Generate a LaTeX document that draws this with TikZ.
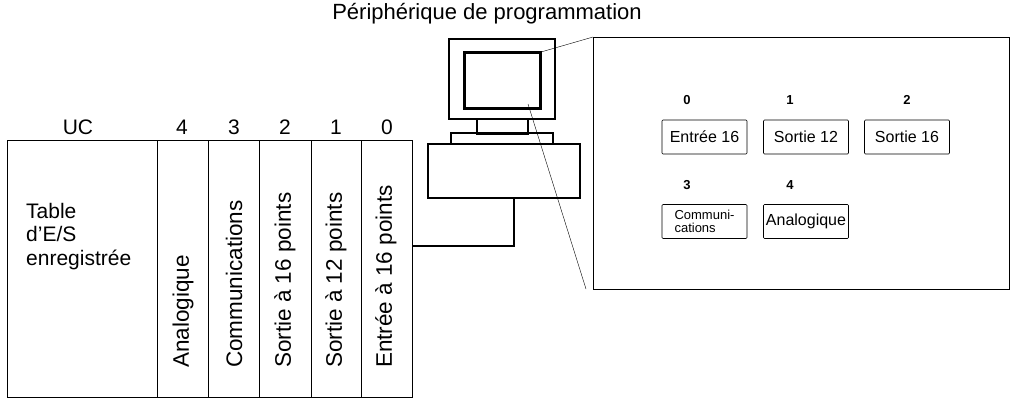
\documentclass[tikz,border=0pt]{standalone}
\usepackage{fontspec}
\setmainfont{Liberation Sans}
\usetikzlibrary{positioning}
\tikzset{
    slot/.style={draw, thick, minimum height=257pt, inner sep=0pt, anchor=north west}, % rack slots
    slottext/.style={rotate=90, anchor=west, inner sep=0pt, font=\fontsize{22.5pt}{24pt}\selectfont},
    unit/.style={draw, semithick, rounded corners=1pt, minimum width=85pt, minimum height=34pt, inner sep=1pt, font=\fontsize{16pt}{17pt}\selectfont},
    num/.style={font=\fontsize{13pt}{14pt}\selectfont\bfseries},
    top/.style={font=\fontsize{21pt}{22pt}\selectfont},
}
\begin{document}
\begin{tikzpicture}[x=1pt, y=-1pt]
    \useasboundingbox (0,0) rectangle (1015,407);
    % rack
    \node[slot, minimum width=150pt] (cpu) at (7,140) {};
    \node[slot, minimum width=51pt] (s4) at (157,140) {};
    \node[slot, minimum width=51pt] (s3) at (208,140) {};
    \node[slot, minimum width=52pt] (s2) at (259,140) {};
    \node[slot, minimum width=50pt] (s1) at (311,140) {};
    \node[slot, minimum width=51pt] (s0) at (361,140) {};
    \node[top] (lcpu) at (78,127) {UC};
    \node[top] (l4) at (182,127) {4};
    \node[top] (l3) at (234,127) {3};
    \node[top] (l2) at (285,127) {2};
    \node[top] (l1) at (336,127) {1};
    \node[top] (l0) at (387,127) {0};
    \node[anchor=north west, align=left, inner sep=0pt, font=\fontsize{21pt}{23.5pt}\selectfont] (table) at (26,203) {Table\\d'E/S\\enregistrée};
    \node[slottext] (t4) at (183,368) {Analogique};
    \node[slottext] (t3) at (234,368) {Communications};
    \node[slottext] (t2) at (285,368) {Sortie à 16 points};
    \node[slottext] (t1) at (336,368) {Sortie à 12 points};
    \node[slottext] (t0) at (386,368) {Entrée à 16 points};
    % computer
    \node[draw, line width=2pt, minimum width=106pt, minimum height=80pt, anchor=north west] (monitor) at (448,38) {};
    \node[draw, line width=3pt, minimum width=76pt, minimum height=56pt, anchor=north west] (screen) at (463,51) {};
    \node[draw, line width=2pt, minimum width=51pt, minimum height=15pt, anchor=north] (neck) at (502.5,118) {};
    \node[draw, line width=2pt, minimum width=102pt, minimum height=11pt, anchor=north] (base) at (502,132) {};
    \node[draw, line width=2pt, minimum width=152pt, minimum height=54pt, anchor=north west] (box) at (427,143) {};
    \coordinate (cab) at (514,246);
    \draw[line width=2pt] (box.south -| cab) -- (cab) -- (cab -| s0.east);
    \node[font=\fontsize{22pt}{24pt}\selectfont] (title) at (487,14) {Périphérique de programmation};
    % zoomed screen
    \node[draw, thick, minimum width=416pt, minimum height=252pt, anchor=north west] (panel) at (593,37) {};
    \draw (screen.north east) ++(-1,1) -- (panel.north west);
    \draw (528,104) -- (586,289);
    \node[unit] (u0) at (704.5,137) {Entrée 16};
    \node[unit] (u1) at (806,137) {Sortie 12};
    \node[unit] (u2) at (907,137) {Sortie 16};
    \node[unit, align=left, font=\fontsize{13pt}{13pt}\selectfont] (u3) at (704.5,221.5) {Communi-\\cations};
    \node[unit] (u4) at (806,221.5) {Analogique};
    \node[num] (n0) at (687,100) {0};
    \node[num] (n1) at (790,100) {1};
    \node[num] (n2) at (907,100) {2};
    \node[num] (n3) at (687,185) {3};
    \node[num] (n4) at (790,185) {4};
\end{tikzpicture}
\end{document}
